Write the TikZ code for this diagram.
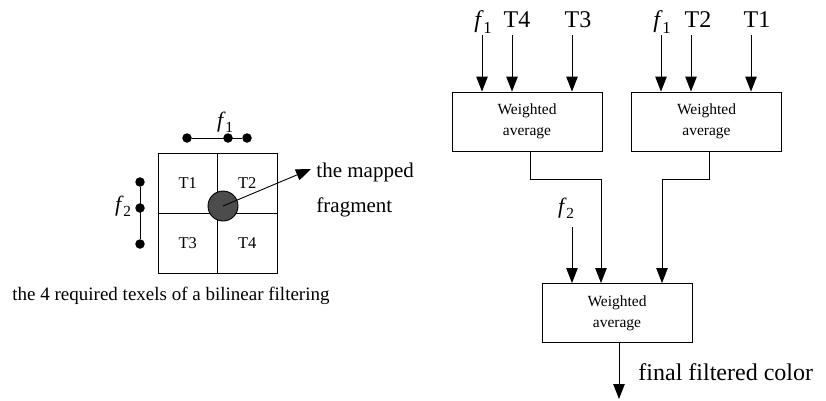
\documentclass[tikz,border=0pt]{standalone}
\usepackage{fontspec}
\usepackage{graphicx}
\setmainfont{Liberation Serif}
\usetikzlibrary{arrows.meta}
% italic f with a lowered index
\newcommand{\fidx}[1]{\textit{f}\kern-0.02em\raisebox{-0.25em}{\scalebox{0.7}{#1}}}
\begin{document}
\begin{tikzpicture}[x=1pt,y=-1pt,
  line width=0.9pt,
  arr/.style={-{Triangle[length=15pt,width=11.5pt]}},
  cell/.style={draw, minimum width=59.5pt, minimum height=60pt, inner sep=0pt,
               font=\fontsize{16.5}{19}\selectfont},
  wbox/.style={draw, minimum width=150pt, minimum height=59pt, inner sep=0pt,
               align=center, font=\fontsize{15.5}{21}\selectfont},
  dot/.style={circle, fill, inner sep=0pt, minimum size=9.5pt},
  lbl/.style={font=\fontsize{24}{28}\selectfont, anchor=base, inner sep=0pt},
  txt/.style={font=\fontsize{21}{24}\selectfont, anchor=base west, inner sep=0pt},
]
\useasboundingbox (0,0) rectangle (826,400);

% ---------- the 2x2 texel grid ----------
\node[cell] (t1) at (187.75,183) {T1};
\node[cell] (t2) at (247.25,183) {T2};
\node[cell] (t3) at (187.75,243) {T3};
\node[cell] (t4) at (247.25,243) {T4};
\node[circle, draw, fill=black!70, minimum size=30pt, inner sep=0pt] (frag) at (223,206) {};

% weight bars
\node[dot] (h1) at (187,138) {};
\node[dot] (h2) at (228,138) {};
\node[dot] (h3) at (247,138) {};
\draw (h1) -- (h3);
\node[font=\fontsize{22}{24}\selectfont, inner sep=0pt] (lh) at (225,122) {\fidx{1}};

\node[dot] (v1) at (140,182) {};
\node[dot] (v2) at (140,208) {};
\node[dot] (v3) at (140,244) {};
\draw (v1) -- (v3);
\node[font=\fontsize{22}{24}\selectfont, inner sep=0pt] (lv) at (123,206) {\fidx{2}};

% mapped fragment pointer
\node[txt] (m1) at (316,177) {the mapped};
\node[txt] (m2) at (316,212) {fragment};
\coordinate (tip) at (311,169);
\draw[arr] (frag.center) -- (tip);

\node[font=\fontsize{19}{24}\selectfont, anchor=base west, inner sep=0pt] (cap) at (12,300)
  {the 4 required texels of a bilinear filtering};

% ---------- weighted average tree ----------
\node[wbox] (wa) at (527,121.5) {Weighted\\average};
\node[wbox] (wb) at (706.5,121.5) {Weighted\\average};
\node[wbox] (wc) at (617,313) {Weighted\\average};

% input labels
\node[lbl] (la1) at (483,27) {\fidx{1}};
\node[lbl] (la2) at (517,27) {T4};
\node[lbl] (la3) at (578,27) {T3};
\node[lbl] (lb1) at (662,27) {\fidx{1}};
\node[lbl] (lb2) at (698,27) {T2};
\node[lbl] (lb3) at (757,27) {T1};
\node[font=\fontsize{22}{24}\selectfont, inner sep=0pt] (lc1) at (566,208) {\fidx{2}};

% input arrows
\coordinate (ia1) at (482,35);
\coordinate (ia2) at (512,35);
\coordinate (ia3) at (572,35);
\coordinate (ib1) at (661,35);
\coordinate (ib2) at (691,35);
\coordinate (ib3) at (751,35);
\coordinate (ic1) at (572,227);
\foreach \c/\b in {ia1/wa, ia2/wa, ia3/wa, ib1/wb, ib2/wb, ib3/wb, ic1/wc}
  \draw[arr] (\c) -- (\c |- \b.north);

% joins between the stages
\coordinate (oa) at (530,0);
\coordinate (ob) at (709,0);
\coordinate (ja) at (601,179);
\coordinate (jb) at (662,179);
\draw[arr] (wa.south -| oa) |- (ja) -- (ja |- wc.north);
\draw[arr] (wb.south -| ob) |- (jb) -- (jb |- wc.north);

% output
\coordinate (out) at (619,399);
\draw[arr] (wc.south -| out) -- (out);
\node[font=\fontsize{24}{28}\selectfont, anchor=base west, inner sep=0pt] (fin) at (638,380)
  {final filtered color};
\end{tikzpicture}
\end{document}
